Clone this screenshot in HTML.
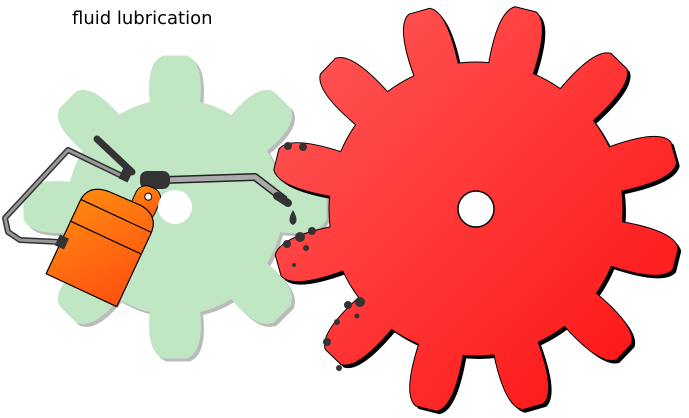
<!DOCTYPE html>
<html><head><meta charset="utf-8"><style>
body{margin:0;background:#fff;width:689px;height:418px;overflow:hidden}
svg{display:block}
</style></head><body>
<svg id="s" width="689" height="418" viewBox="0 0 689 418">
<defs>
<linearGradient id="rg" x1="0" y1="0" x2="1" y2="1"><stop offset="0" stop-color="#ff5a5a"/><stop offset="1" stop-color="#ff1010"/></linearGradient>
<linearGradient id="og" x1="0" y1="0" x2="1" y2="1"><stop offset="0" stop-color="#ff8c10"/><stop offset="1" stop-color="#ff5010"/></linearGradient>
</defs>
<text x="72" y="24" font-family="'DejaVu Sans','Liberation Sans',sans-serif" font-size="18" fill="#000">fluid lubrication</text>
<g id="green"></g>
<g id="red"></g>
<g>
 <path d="M97,139 L132,172" stroke="#333" stroke-width="7" stroke-linecap="round"/>
 <path d="M122,176 L68,150 L5,218 L8,232 L20,240 L60,242" fill="none" stroke="#333" stroke-width="6" stroke-linejoin="round"/>
 <path d="M122,176 L68,150 L5,218 L8,232 L20,240 L60,242" fill="none" stroke="#999" stroke-width="3" stroke-linejoin="round"/>
 <path d="M165,180 L255,177 L285,200" fill="none" stroke="#222" stroke-width="8" stroke-linejoin="round"/>
 <path d="M165,180 L255,177 L285,200" fill="none" stroke="#aaa" stroke-width="5" stroke-linejoin="round"/>
 <path d="M277,196 L288,203" stroke="#333" stroke-width="8" stroke-linecap="round"/>
 <rect x="140" y="171" width="30" height="18" rx="7" fill="#333"/>
 <g transform="rotate(25 105 235)">
  <rect x="115" y="172" width="26" height="34" rx="11" fill="url(#og)" stroke="#000"/>
  <circle cx="128" cy="182" r="3.5" fill="#fff" stroke="#000"/>
  <path d="M68,295 L68,215 Q68,196 90,194 L125,193 Q146,195 146,215 L146,295 Z" fill="url(#og)" stroke="#000" stroke-width="1.2"/>
  <path d="M68,213 L146,213 M68,237 L146,237" stroke="#000" stroke-width="1.2"/>
 </g>
 <rect x="57" y="236" width="10" height="12" fill="#333" transform="rotate(25 62 242)"/>
 <rect x="121" y="167" width="10" height="14" fill="#333" transform="rotate(25 126 174)"/>
</g>
<g fill="#333">
 <path d="M293,210 Q286,222 293,225 Q300,222 293,210Z"/>
 <circle cx="300" cy="237" r="5"/><circle cx="312" cy="231" r="4"/><circle cx="287" cy="244" r="4"/>
 <circle cx="288" cy="146" r="4"/><circle cx="303" cy="147" r="4"/>
 <circle cx="306" cy="248" r="3"/><circle cx="294" cy="265" r="2"/>
 <circle cx="360" cy="302" r="5"/><circle cx="348" cy="305" r="4"/><circle cx="337" cy="322" r="3"/>
 <circle cx="327" cy="342" r="4"/><circle cx="339" cy="368" r="3"/><circle cx="357" cy="316" r="2.5"/>
</g>
<circle cx="175" cy="207" r="17" fill="#fff"/>
<circle cx="476" cy="209" r="18" fill="#fff" stroke="#000" stroke-width="1.5"/>
</svg>
<script>
function gear(cx,cy,N,R,r,off,tip,base){
  var p=2*Math.PI/N,d="";
  function P(rad,t){return (cx+rad*Math.cos(t)).toFixed(1)+","+(cy+rad*Math.sin(t)).toFixed(1);}
  for(var i=0;i<N;i++){
    var a=off+i*p;
    var s0=P(r,a-base*p);
    d+=(i==0?"M"+s0:"L"+s0);
    d+=" Q"+P(R*0.97,a-base*p*0.85)+" "+P(R,a-tip*p);
    d+=" L"+P(R,a+tip*p);
    d+=" Q"+P(R*0.97,a+base*p*0.85)+" "+P(r,a+base*p);
    d+=" A"+r+","+r+" 0 0 1 "+P(r,a+(1-base)*p)+" ";
  }
  return d+"Z";
}
var ns="http://www.w3.org/2000/svg";
function add(g,d,fill,stroke,sw,tx){
  var e=document.createElementNS(ns,"path");
  e.setAttribute("d",d);e.setAttribute("fill",fill);
  if(stroke){e.setAttribute("stroke",stroke);e.setAttribute("stroke-width",sw);}
  if(tx)e.setAttribute("transform",tx);
  document.getElementById(g).appendChild(e);return e;
}
var gd=gear(175,207,8,152,108,-Math.PI/2,0.1,0.3);
add("green",gd,"#bbb",null,0,"translate(3,3)");
var ge=add("green",gd,"#c0e6c4");

var rd=gear(476,209,12,206,147,-76*Math.PI/180,0.1,0.3);
add("red",rd,"#000",null,0,"translate(3,3)");
var re=add("red",rd,"url(#rg)","#000",1);

</script>
</body></html>
